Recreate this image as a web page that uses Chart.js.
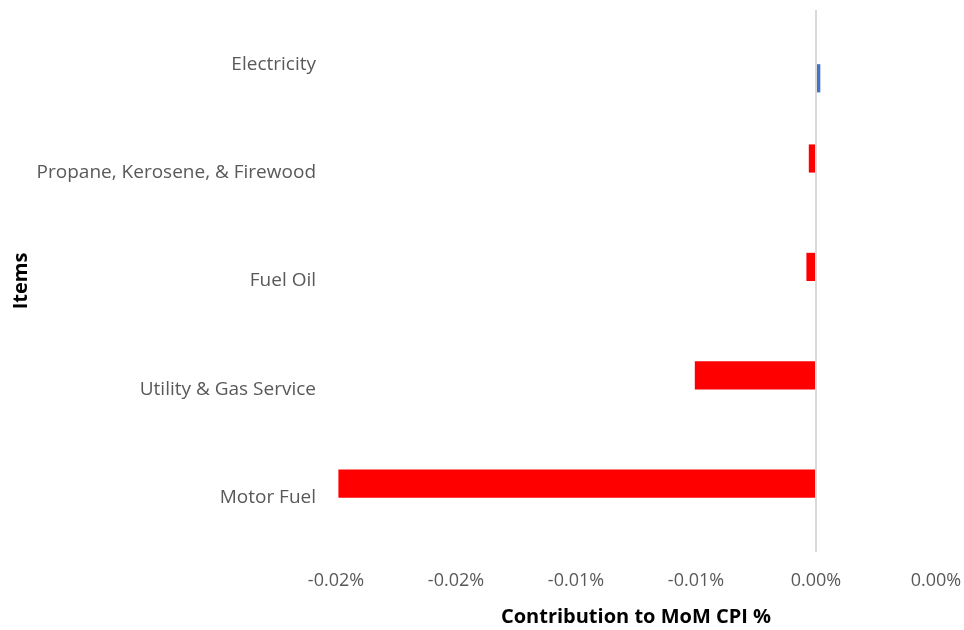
<!DOCTYPE html>
<html>
<head>
<meta charset="utf-8">
<script src="https://cdn.jsdelivr.net/npm/chart.js@4"></script>
<style>
html,body{margin:0;padding:0;background:#fff;}
#wrap{width:964px;height:630px;position:relative;}
</style>
</head>
<body>
<div id="wrap"><canvas id="chart" width="964" height="630"></canvas></div>
<script>
const items=['Electricity','Propane, Kerosene, & Firewood','Fuel Oil','Utility & Gas Service','Motor Fuel'];
// contribution to MoM CPI, in percent points; split in two series like the source sheet
const negative=[null,-0.0003,-0.0004,-0.00505,-0.0199];
const positive=[0.00018,null,null,null,null];
const tickLabels=['-0.02%','-0.02%','-0.01%','-0.01%','0.00%','0.00%'];

const font='"Open Sans", "Liberation Sans", sans-serif';

new Chart(document.getElementById('chart'),{
 type:'bar',
 data:{
  labels:items,
  datasets:[
   {label:'Negative',data:negative,backgroundColor:'#ff0000',barPercentage:1,categoryPercentage:0.52},
   {label:'Positive',data:positive,backgroundColor:'#4472c4',barPercentage:1,categoryPercentage:0.52}
  ]
 },
 options:{
  indexAxis:'y',
  responsive:false,
  animation:false,
  layout:{padding:{left:0,right:28,top:10,bottom:0}},
  plugins:{legend:{display:false},tooltip:{enabled:false}},
  scales:{
   x:{
    min:-0.02,max:0.005,
    ticks:{stepSize:0.005,color:'#595959',font:{family:font,size:18},padding:18,
     callback:(v,i)=>tickLabels[i]},
    grid:{drawTicks:false,lineWidth:2,color:c=>Math.abs(c.tick.value)<1e-9?'#d9d9d9':'rgba(0,0,0,0)'},
    border:{display:false},
    title:{display:true,text:'Contribution to MoM CPI %',color:'#000',font:{family:font,size:20,weight:'bold'},padding:{top:10,bottom:1}},
    afterFit:s=>{s.height=78;s.paddingLeft=0;s.paddingRight=0;}
   },
   y:{
    ticks:{color:'#595959',font:{family:font,size:19},padding:20},
    grid:{display:false,drawTicks:false},
    border:{display:false},
    title:{display:true,text:'Items',color:'#000',font:{family:font,size:20,weight:'bold'},padding:{top:9,bottom:0}},
    afterFit:s=>{s.width=336;s.paddingTop=0;s.paddingBottom=0;}
   }
  }
 }
});
</script>
</body>
</html>
